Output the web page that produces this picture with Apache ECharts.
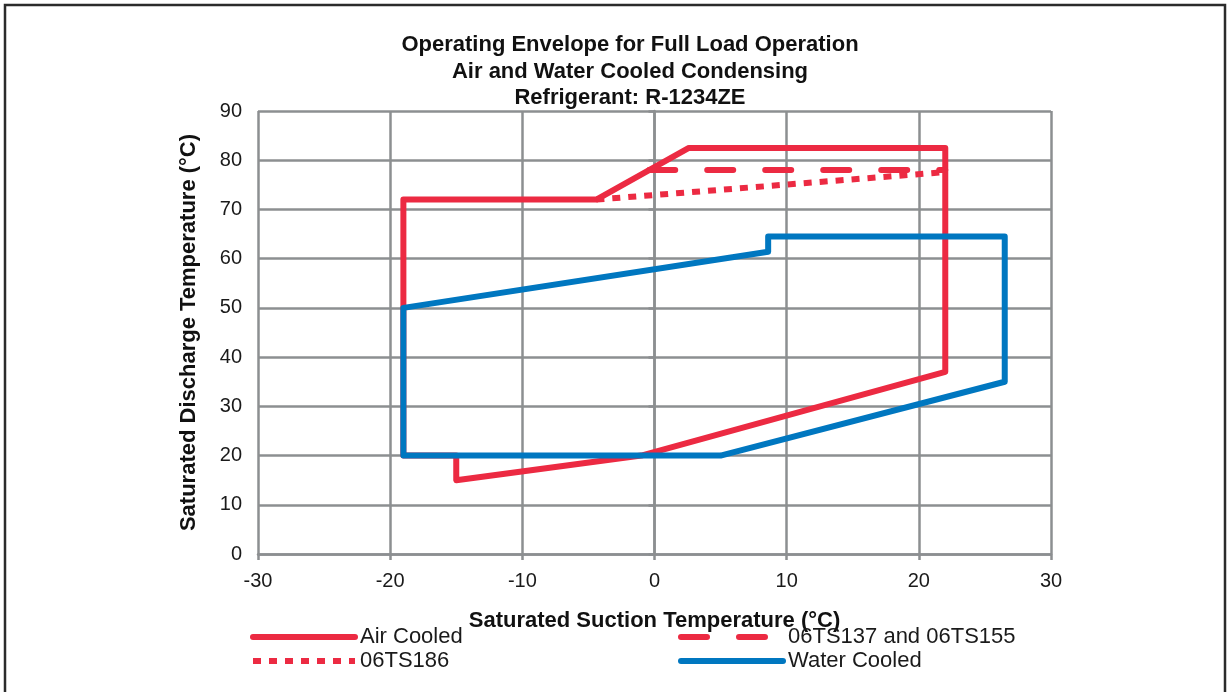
<!DOCTYPE html>
<html>
<head>
<meta charset="utf-8">
<script src="https://cdn.jsdelivr.net/npm/echarts@6/dist/echarts.min.js"></script>
<style>
  html, body { margin: 0; padding: 0; background: #fff; }
  #chart { width: 1227px; height: 692px; }
</style>
</head>
<body>
<div id="chart"></div>
<script>
// ---- data ----
const titleLines = ['Operating Envelope for Full Load Operation', 'Air and Water Cooled Condensing', 'Refrigerant: R-1234ZE'];
const xTitle = 'Saturated Suction Temperature (°C)';
const yTitle = 'Saturated Discharge Temperature (°C)';
const seriesNames = ['Air Cooled', '06TS137 and 06TS155', '06TS186', 'Water Cooled'];

const airX = [-19, -4.4, 2.6, 22, 22, -1, -15, -15, -19, -19];
const airY = [72, 72, 82.5, 82.5, 37, 20, 15, 20, 20, 72];

const ts137X = [-0.4, 22];
const ts137Y = [78, 78];

const ts186X = [-4.4, 22];
const ts186Y = [72, 77.6];

const waterX = [-19, 8.6, 8.6, 26.5, 26.5, 5, -19, -19];
const waterY = [50, 61.4, 64.5, 64.5, 35, 20, 20, 50];

const xMin = -30, xMax = 30, xStep = 10;
const yMin = 0, yMax = 90, yStep = 10;

// ---- build ----
const zip = (xs, ys) => xs.map((x, i) => [x, ys[i]]);
const RED = '#EC2A42';
const BLUE = '#0077C0';
const GRAY = '#8c8f91';
const FONT = '"Liberation Sans", Arial, sans-serif';

const chart = echarts.init(document.getElementById('chart'), null, { renderer: 'canvas' });

const legendCommon = {
  orient: 'vertical',
  top: 626,
  padding: 0,
  itemWidth: 102,
  itemHeight: 14,
  itemGap: 2,
  textStyle: { fontFamily: FONT, fontSize: 22, color: '#1a1a1a', lineHeight: 22 },
  lineStyle: { width: 6 },
  itemStyle: { opacity: 0 }
};

chart.setOption({
  backgroundColor: '#fff',
  animation: false,
  title: {
    text: titleLines.join('\n'),
    left: 630,
    top: 32,
    padding: 0,
    textAlign: 'center',
    textStyle: { fontFamily: FONT, fontSize: 22, fontWeight: 'bold', color: '#111', lineHeight: 26.5 }
  },
  graphic: [{
    type: 'rect',
    shape: { x: 5, y: 5, width: 1220, height: 720 },
    style: { fill: 'none', stroke: '#2b2b2b', lineWidth: 2.5 },
    silent: true
  }],
  legend: [
    Object.assign({}, legendCommon, { left: 250, data: [seriesNames[0], seriesNames[2]] }),
    Object.assign({}, legendCommon, { left: 678, data: [seriesNames[1], seriesNames[3]] })
  ],
  grid: { left: 258, right: 176, top: 111, bottom: 138 },
  xAxis: {
    type: 'value', min: xMin, max: xMax, interval: xStep,
    name: xTitle, nameLocation: 'middle', nameGap: 56,
    nameTextStyle: { fontFamily: FONT, fontSize: 22, fontWeight: 'bold', color: '#111' },
    axisLine: { show: true, lineStyle: { color: GRAY, width: 2.5 } },
    axisTick: { show: true, length: 6, lineStyle: { color: GRAY, width: 2.5 } },
    axisLabel: { fontFamily: FONT, fontSize: 20, color: '#1a1a1a', margin: 17 },
    splitLine: { show: true, lineStyle: { color: GRAY, width: 2.5 } }
  },
  yAxis: {
    type: 'value', min: yMin, max: yMax, interval: yStep,
    name: yTitle, nameLocation: 'middle', nameGap: 58,
    nameTextStyle: { fontFamily: FONT, fontSize: 22, fontWeight: 'bold', color: '#111' },
    axisLine: { show: true, lineStyle: { color: GRAY, width: 2.5 } },
    axisTick: { show: true, length: 6, lineStyle: { color: GRAY, width: 2.5 } },
    axisLabel: { fontFamily: FONT, fontSize: 20, color: '#1a1a1a', margin: 16 },
    splitLine: { show: true, lineStyle: { color: GRAY, width: 2.5 } }
  },
  series: [
    {
      name: seriesNames[0], type: 'line', data: zip(airX, airY),
      symbol: 'none', color: RED, z: 3,
      lineStyle: { color: RED, width: 6, cap: 'round', join: 'round' }
    },
    {
      name: seriesNames[1], type: 'line', data: zip(ts137X, ts137Y),
      symbol: 'none', color: RED, z: 3,
      lineStyle: { color: RED, width: 6, type: [26, 32], cap: 'round' }
    },
    {
      name: seriesNames[2], type: 'line', data: zip(ts186X, ts186Y),
      symbol: 'none', color: RED, z: 3,
      lineStyle: { color: RED, width: 6, type: [8, 8], cap: 'butt' }
    },
    {
      name: seriesNames[3], type: 'line', data: zip(waterX, waterY),
      symbol: 'none', color: BLUE, z: 4,
      lineStyle: { color: BLUE, width: 6, cap: 'round', join: 'round' }
    }
  ]
});
</script>
</body>
</html>
